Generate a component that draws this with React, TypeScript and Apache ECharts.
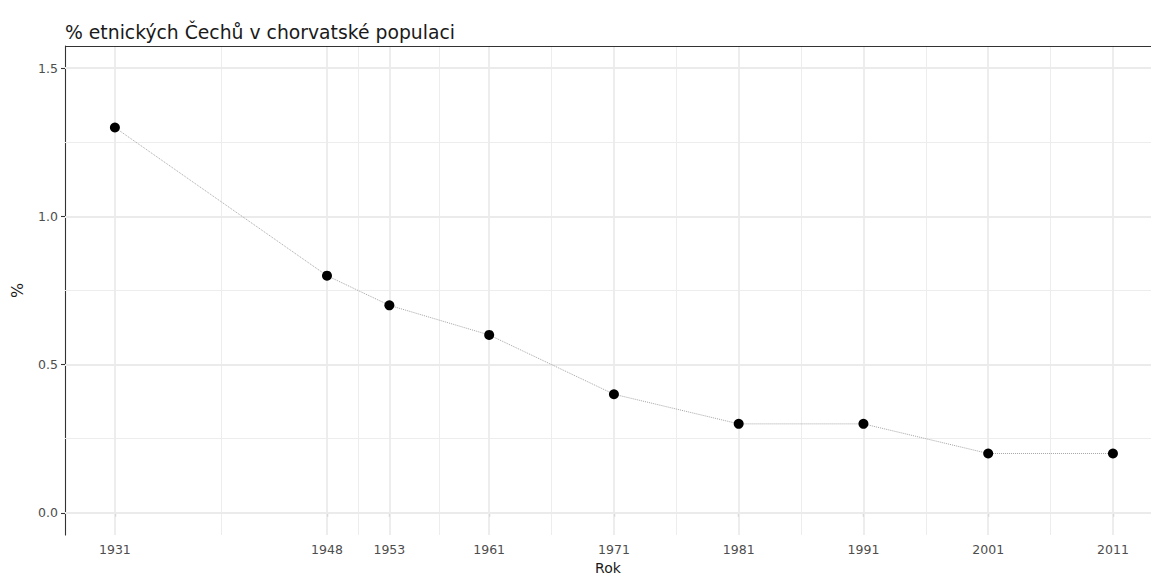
import React, { useEffect, useRef } from "react";
import * as echarts from "echarts";

const years = [1931, 1948, 1953, 1961, 1971, 1981, 1991, 2001, 2011];
const percent = [1.3, 0.8, 0.7, 0.6, 0.4, 0.3, 0.3, 0.2, 0.2];
const yTicks = [0, 0.5, 1.0, 1.5];
const yMinor = [0.25, 0.75, 1.25];
const xMinor = [1939.5, 1950.5, 1957, 1966, 1976, 1986, 1996, 2006];

const FONT = "'DejaVu Sans', sans-serif";

export default function App() {
  const ref = useRef<HTMLDivElement>(null);
  useEffect(() => {
    if (!ref.current) return;
    const chart = echarts.init(ref.current, null, { renderer: "svg" });
    const gridMajor = { color: "#ebebeb", width: 1.8, type: "solid" };
    const gridMinor = { color: "#ededed", width: 1, type: "solid" };
    chart.setOption({
      animation: false,
      textStyle: { fontFamily: FONT },
      title: {
        text: "% etnických Čechů v chorvatské populaci",
        left: 60,
        top: 18,
        textStyle: { fontFamily: FONT, fontSize: 18.8, fontWeight: "normal", color: "#1a1a1a" },
      },
      grid: { left: 65, right: 0, top: 46, bottom: 45, containLabel: false },
      xAxis: {
        type: "value",
        min: 1927,
        max: 2014.05,
        name: "Rok",
        nameLocation: "middle",
        nameGap: 26,
        nameTextStyle: { fontFamily: FONT, fontSize: 14, color: "#1a1a1a" },
        splitLine: { show: false },
        axisLine: { show: true, lineStyle: { color: "#333333", width: 1.1 } },
        axisTick: { show: true, length: 4, customValues: years, lineStyle: { color: "#333333", width: 1.1 } },
        axisLabel: {
          customValues: years,
          margin: 8,
          fontFamily: FONT,
          fontSize: 12.5,
          color: "#4d4d4d",
          formatter: (v: number) => String(v),
        },
      },
      yAxis: {
        type: "value",
        min: -0.075,
        max: 1.575,
        name: "%",
        nameLocation: "middle",
        nameGap: 40,
        nameRotate: 90,
        nameTextStyle: { fontFamily: FONT, fontSize: 16, color: "#1a1a1a" },
        splitLine: { show: false },
        axisLine: { show: true, lineStyle: { color: "#333333", width: 1.1 } },
        axisTick: { show: true, length: 4, customValues: yTicks, lineStyle: { color: "#333333", width: 1.1 } },
        axisLabel: {
          customValues: yTicks,
          margin: 7,
          fontFamily: FONT,
          fontSize: 12.5,
          color: "#4d4d4d",
          formatter: (v: number) => v.toFixed(1),
        },
      },
      graphic: [
        {
          type: "line",
          shape: { x1: 65, y1: 46.5, x2: 1151, y2: 46.5 },
          style: { stroke: "#333333", lineWidth: 1.1 },
          z: 10,
        },
      ],
      series: [
        {
          type: "line",
          data: [],
          silent: true,
          markLine: {
            silent: true,
            symbol: ["none", "none"],
            label: { show: false },
            animation: false,
            data: [
              ...xMinor.map((v) => ({ xAxis: v, lineStyle: gridMinor })),
              ...yMinor.map((v) => ({ yAxis: v, lineStyle: gridMinor })),
              ...years.map((v) => ({ xAxis: v, lineStyle: gridMajor })),
              ...yTicks.map((v) => ({ yAxis: v, lineStyle: gridMajor })),
            ],
          },
          z: 1,
        },
        {
          type: "line",
          data: years.map((y, i) => [y, percent[i]]),
          symbol: "circle",
          symbolSize: 10,
          itemStyle: { color: "#000000" },
          lineStyle: { color: "#a6a6a6", width: 1, type: "dotted" },
          z: 5,
        },
      ],
    });
    return () => chart.dispose();
  }, []);
  return (
    <div
      ref={ref}
      style={{ position: "fixed", left: 0, top: 0, width: 1151, height: 580, background: "#ffffff" }}
    />
  );
}
